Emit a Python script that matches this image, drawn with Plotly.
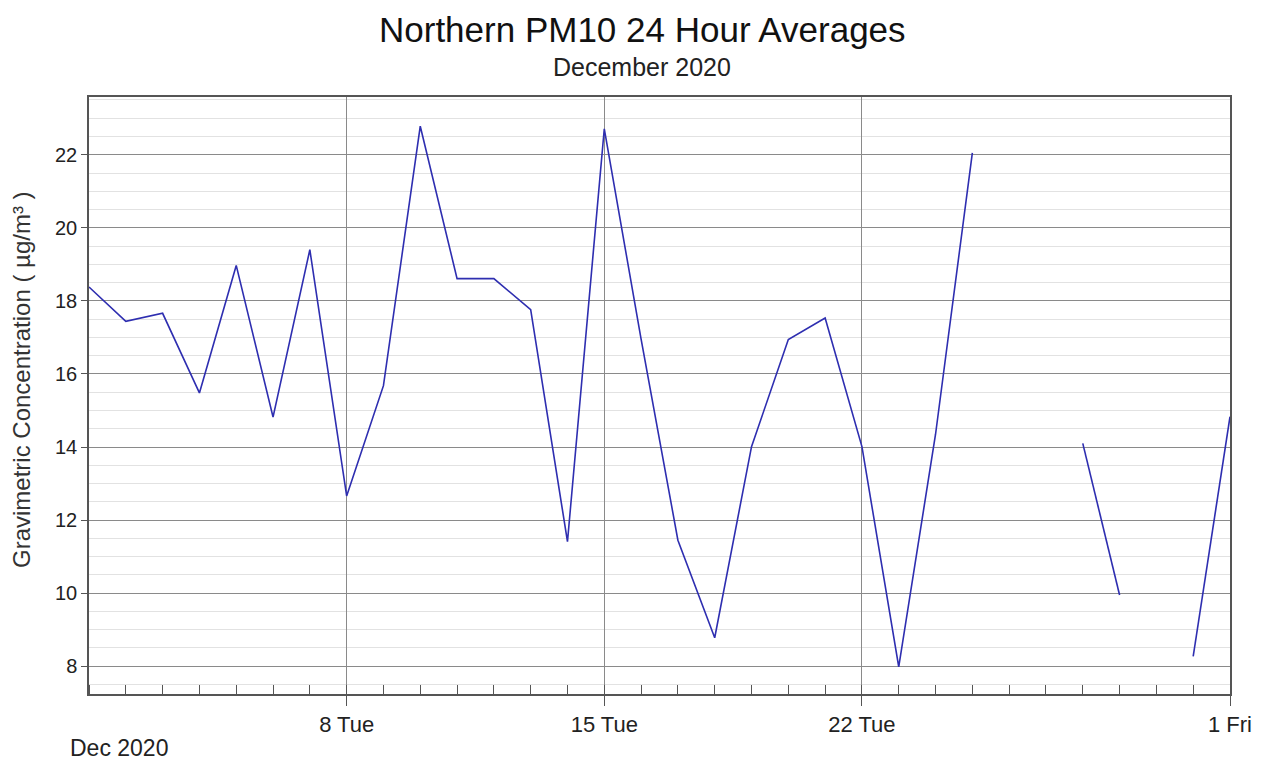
import plotly.graph_objects as go

dates = ["2020-12-%02d" % d for d in range(1, 32)] + ["2021-01-01"]
pm10 = [18.38, 17.44, 17.66, 15.48, 18.97, 14.82, 19.40, 12.66, 15.68, 22.78,
        18.61, 18.61, 17.76, 11.41, 22.71, 16.95, 11.45, 8.78, 14.01, 16.94,
        17.53, 14.01, 7.98, 14.35, 22.05, None, None, 14.10, 9.95, None,
        8.27, 14.83]

major_ticks = ["2020-12-08", "2020-12-15", "2020-12-22", "2021-01-01"]
major_labels = ["8 Tue", "15 Tue", "22 Tue", "1 Fri"]
y_ticks = [8, 10, 12, 14, 16, 18, 20, 22]

FONT = "Liberation Sans, Arial, sans-serif"

fig = go.Figure()
fig.add_trace(go.Scatter(
    x=dates, y=pm10, mode="lines", connectgaps=False,
    line=dict(color="#2e2eb0", width=1.6), showlegend=False,
))

fig.update_layout(
    width=1265, height=766,
    margin=dict(l=81, r=43, t=89, b=80),
    paper_bgcolor="white", plot_bgcolor="white",
    font=dict(family=FONT, color="#222222"),
    xaxis=dict(
        type="date",
        range=["2020-12-01", "2021-01-01"],
        tickvals=major_ticks, ticktext=major_labels,
        ticks="outside", ticklen=10, tickcolor="#555555",
        tickfont=dict(size=22, color="#222222"),
        showgrid=True, gridcolor="#8a8a8a", gridwidth=1,
        showline=True, mirror=True, linecolor="#555555", linewidth=1.5,
        minor=dict(dtick=86400000, tick0="2020-12-01", ticks="inside",
                   ticklen=9, tickcolor="#555555", showgrid=False),
        zeroline=False,
    ),
    yaxis=dict(
        range=[7.24, 23.58],
        tickvals=y_ticks,
        ticks="outside", ticklen=6, tickcolor="#555555",
        tickfont=dict(size=20, color="#222222"),
        showgrid=True, gridcolor="#8a8a8a", gridwidth=1,
        minor=dict(dtick=0.5, tick0=0, showgrid=True, gridcolor="#e2e2e2",
                   gridwidth=1, ticks=""),
        showline=True, mirror=True, linecolor="#555555", linewidth=1.5,
        zeroline=False,
    ),
    annotations=[
        dict(text="Northern PM10 24 Hour Averages", xref="paper", yref="paper",
             x=0.4847, y=1.1139, xanchor="center", yanchor="middle",
             showarrow=False, font=dict(size=35, color="#111111")),
        dict(text="December 2020", xref="paper", yref="paper",
             x=0.4847, y=1.0503, xanchor="center", yanchor="middle",
             showarrow=False, font=dict(size=25, color="#222222")),
        dict(text="Dec 2020", xref="paper", yref="paper",
             x=-0.0184, y=-0.0905, xanchor="left", yanchor="middle",
             showarrow=False, font=dict(size=23, color="#222222")),
        dict(text="Gravimetric Concentration ( µg/m³ )", xref="paper", yref="paper",
             x=-0.0587, y=0.526, xanchor="center", yanchor="middle",
             textangle=-90, showarrow=False, font=dict(size=24, color="#333333")),
    ],
)

fig.write_html("out.html")
